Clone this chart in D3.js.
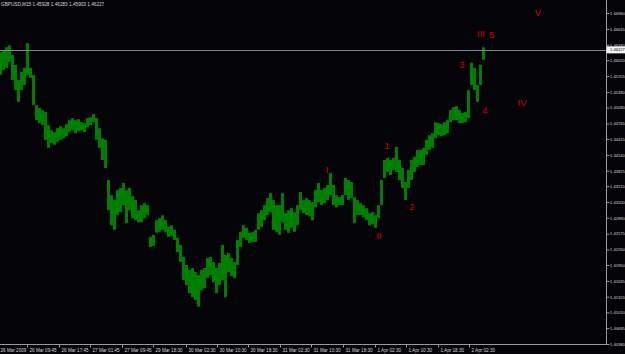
<!DOCTYPE html>
<html lang="en">
<head>
<meta charset="UTF-8">
<title>GBPUSD,M15</title>
<style>
  html, body { margin: 0; padding: 0; background: #040408; }
  svg { display: block; }
  .axis text { font-family: "Liberation Sans", Arial, sans-serif; fill: #d4d4d4; }
  .axis line { stroke: #9a9a9a; }
  .wave { font-family: "Liberation Sans", Arial, sans-serif; fill: #d40000; }
</style>
</head>
<body>
<div id="chart"></div>
<script src="https://d3js.org/d3.v7.min.js"></script>
<script>
// chart header
const symbol = "GBPUSD,M15";
const ohlc = ["1.45928", "1.46283", "1.45903", "1.46227"];
const lastPrice = 1.46227;

// price scale labels (right axis)
const priceTicks = ["1.46960", "1.46645", "1.46330", "1.46020", "1.45705", "1.45390",
  "1.45080", "1.44765", "1.44455", "1.44140", "1.43825", "1.43515", "1.43200", "1.42890",
  "1.42575", "1.42260", "1.41950", "1.41635", "1.41320", "1.41010", "1.40695", "1.40380"];

// time scale labels and the bar they sit on
const timeLabels = ["26 Mar 2009", "26 Mar 09:45", "26 Mar 17:45", "27 Mar 01:45", "27 Mar 09:45",
  "29 Mar 18:30", "30 Mar 02:30", "30 Mar 10:30", "30 Mar 18:30", "31 Mar 02:30", "31 Mar 10:30",
  "31 Mar 18:30", "1 Apr 02:30", "1 Apr 10:30", "1 Apr 18:30", "2 Apr 02:30"];
const timeBars = [-2, 27, 59, 90, 122, 153, 186, 217, 248, 280, 311, 343, 375, 406, 438, 469];

// price range of every group of 3 bars (high / low)
const barsPerGroup = 3;
const highs = [1.4618, 1.4622, 1.4628, 1.4632, 1.4613, 1.4593, 1.4563, 1.4579, 1.4587, 1.4636,
  1.4587, 1.4573, 1.4513, 1.4507, 1.4503, 1.4499, 1.4473, 1.4463, 1.4459, 1.4467,
  1.4471, 1.4467, 1.4475, 1.4483, 1.4487, 1.4483, 1.4485, 1.4479, 1.4477, 1.4487,
  1.4489, 1.4495, 1.4487, 1.4467, 1.4447, 1.4444, 1.4364, 1.4334, 1.4324, 1.4344,
  1.4348, 1.4358, 1.4344, 1.4348, 1.4332, 1.4324, 1.4304, 1.4314, 1.4318, 1.4314,
  1.4251, 1.4255, 1.4284, 1.4288, 1.4294, 1.4284, 1.4271, 1.4274, 1.4265, 1.4249,
  1.4235, 1.4211, 1.4195, 1.4185, 1.4189, 1.4181, 1.4175, 1.4185, 1.4189, 1.4209,
  1.4211, 1.4201, 1.4189, 1.4199, 1.4235, 1.4215, 1.4219, 1.4209, 1.4201, 1.4245,
  1.4261, 1.4274, 1.4269, 1.4259, 1.4261, 1.4265, 1.4298, 1.4304, 1.4314, 1.4328,
  1.4338, 1.4324, 1.4314, 1.4314, 1.4338, 1.4298, 1.4304, 1.4308, 1.4300, 1.4314,
  1.4340, 1.4324, 1.4328, 1.4324, 1.4320, 1.4344, 1.4358, 1.4344, 1.4348, 1.4354,
  1.4378, 1.4354, 1.4334, 1.4330, 1.4334, 1.4368, 1.4364, 1.4360, 1.4330, 1.4324,
  1.4318, 1.4314, 1.4308, 1.4298, 1.4300, 1.4294, 1.4314, 1.4364, 1.4404, 1.4408,
  1.4404, 1.4408, 1.4430, 1.4404, 1.4388, 1.4360, 1.4384, 1.4404, 1.4410, 1.4424,
  1.4424, 1.4428, 1.4444, 1.4453, 1.4457, 1.4479, 1.4477, 1.4475, 1.4479, 1.4483,
  1.4503, 1.4509, 1.4511, 1.4503, 1.4497, 1.4499, 1.4543, 1.4597, 1.4587, 1.4553,
  1.4593, 1.4628];
const lows = [1.4573, 1.4583, 1.4587, 1.4599, 1.4563, 1.4543, 1.4519, 1.4543, 1.4553, 1.4573,
  1.4567, 1.4513, 1.4483, 1.4477, 1.4473, 1.4444, 1.4428, 1.4438, 1.4434, 1.4440,
  1.4444, 1.4447, 1.4451, 1.4459, 1.4463, 1.4457, 1.4461, 1.4463, 1.4459, 1.4469,
  1.4473, 1.4479, 1.4444, 1.4428, 1.4404, 1.4388, 1.4304, 1.4274, 1.4265, 1.4294,
  1.4300, 1.4314, 1.4278, 1.4304, 1.4288, 1.4284, 1.4280, 1.4280, 1.4288, 1.4294,
  1.4231, 1.4233, 1.4259, 1.4261, 1.4265, 1.4261, 1.4251, 1.4253, 1.4245, 1.4221,
  1.4201, 1.4165, 1.4155, 1.4139, 1.4131, 1.4125, 1.4112, 1.4145, 1.4149, 1.4169,
  1.4175, 1.4161, 1.4139, 1.4155, 1.4165, 1.4131, 1.4181, 1.4173, 1.4169, 1.4195,
  1.4231, 1.4249, 1.4245, 1.4239, 1.4241, 1.4241, 1.4265, 1.4271, 1.4284, 1.4294,
  1.4300, 1.4265, 1.4261, 1.4255, 1.4280, 1.4265, 1.4259, 1.4269, 1.4261, 1.4274,
  1.4304, 1.4298, 1.4294, 1.4292, 1.4284, 1.4310, 1.4320, 1.4314, 1.4318, 1.4324,
  1.4334, 1.4314, 1.4310, 1.4314, 1.4314, 1.4334, 1.4324, 1.4328, 1.4278, 1.4294,
  1.4294, 1.4290, 1.4284, 1.4274, 1.4276, 1.4269, 1.4288, 1.4314, 1.4368, 1.4380,
  1.4374, 1.4384, 1.4380, 1.4364, 1.4348, 1.4324, 1.4348, 1.4364, 1.4380, 1.4390,
  1.4394, 1.4394, 1.4414, 1.4424, 1.4428, 1.4447, 1.4453, 1.4451, 1.4453, 1.4457,
  1.4479, 1.4483, 1.4483, 1.4477, 1.4477, 1.4479, 1.4487, 1.4553, 1.4543, 1.4519,
  1.4553, 1.4603];

// Elliott wave marks: text, bar, price
const waveText = ["I", "II", "1", "2", "3", "4", "III", "5", "IV", "V"];
const waveBar = [327, 379, 387, 412, 462, 485, 481, 492, 522, 538];
const wavePrice = [1.4385, 1.4253, 1.4433, 1.4311, 1.4593, 1.4502, 1.4654, 1.4653, 1.4517, 1.4696];

// layout
const width = 625, height = 354;
const plotRight = 606, plotBottom = 344;
const priceFont = 4.1;

const svg = d3.select("#chart").append("svg")
  .attr("width", width)
  .attr("height", height);

svg.append("rect").attr("width", width).attr("height", height).attr("fill", "#040408");

const x = d3.scaleLinear().domain([0, plotRight]).range([0, plotRight]);
const y = d3.scaleLinear().domain([1.4038, 1.4696]).range([plotBottom, 13]);

// bars
svg.append("g")
  .selectAll("rect")
  .data(highs.map((h, i) => ({ bar: i * barsPerGroup, high: h, low: lows[i] })))
  .join("rect")
  .attr("x", d => x(d.bar) - 1)
  .attr("width", barsPerGroup)
  .attr("y", d => y(d.high))
  .attr("height", d => Math.max(1, y(d.low) - y(d.high)))
  .attr("fill", "#007e00");

// last price line
svg.append("line")
  .attr("x1", 0).attr("x2", plotRight)
  .attr("y1", Math.round(y(lastPrice)) + 0.5).attr("y2", Math.round(y(lastPrice)) + 0.5)
  .attr("stroke", "#7a8794").attr("stroke-width", 1);

// frame lines
svg.append("line")
  .attr("x1", 0).attr("x2", plotRight + 0.5)
  .attr("y1", plotBottom + 0.5).attr("y2", plotBottom + 0.5)
  .attr("stroke", "#9a9a9a");
svg.append("line")
  .attr("x1", plotRight + 0.5).attr("x2", plotRight + 0.5)
  .attr("y1", 0).attr("y2", plotBottom + 0.5)
  .attr("stroke", "#9a9a9a");

// right axis
const yAxis = d3.axisRight(y)
  .tickValues(priceTicks.map(Number))
  .tickFormat((d, i) => priceTicks[i])
  .tickSize(3)
  .tickPadding(0.5);
const gy = svg.append("g")
  .attr("class", "axis")
  .attr("transform", `translate(${plotRight + 0.5},0)`)
  .call(yAxis);
gy.select(".domain").remove();
gy.selectAll("text").attr("font-size", priceFont);

// bottom axis
const xAxis = d3.axisBottom(x)
  .tickValues(timeBars)
  .tickFormat((d, i) => timeLabels[i])
  .tickSize(3)
  .tickPadding(1);
const gx = svg.append("g")
  .attr("class", "axis")
  .attr("transform", `translate(0,${plotBottom + 0.5})`)
  .call(xAxis);
gx.select(".domain").remove();
gx.selectAll("text")
  .attr("font-size", 4.6)
  .attr("text-anchor", "start")
  .attr("x", 2);

// last price box
const py = y(lastPrice);
svg.append("rect")
  .attr("x", plotRight + 0.5).attr("y", py - 3.5)
  .attr("width", width - plotRight).attr("height", 7)
  .attr("fill", "#f4f4f4");
svg.append("text")
  .attr("x", plotRight + 4).attr("y", py)
  .attr("dy", "0.35em")
  .attr("font-family", "Liberation Sans, Arial, sans-serif")
  .attr("font-size", priceFont)
  .attr("fill", "#000")
  .text(lastPrice.toFixed(5));

// header
svg.append("text")
  .attr("x", 1).attr("y", 5.5)
  .attr("font-family", "Liberation Sans, Arial, sans-serif")
  .attr("font-size", 4.7)
  .attr("fill", "#d4d4d4")
  .text(symbol + "  " + ohlc.join(" "));

// wave labels
svg.append("g")
  .selectAll("text")
  .data(waveText)
  .join("text")
  .attr("class", "wave")
  .attr("x", (d, i) => x(waveBar[i]))
  .attr("y", (d, i) => y(wavePrice[i]))
  .attr("dy", "0.35em")
  .attr("text-anchor", "middle")
  .attr("font-size", 9.5)
  .text(d => d);
</script>
</body>
</html>
